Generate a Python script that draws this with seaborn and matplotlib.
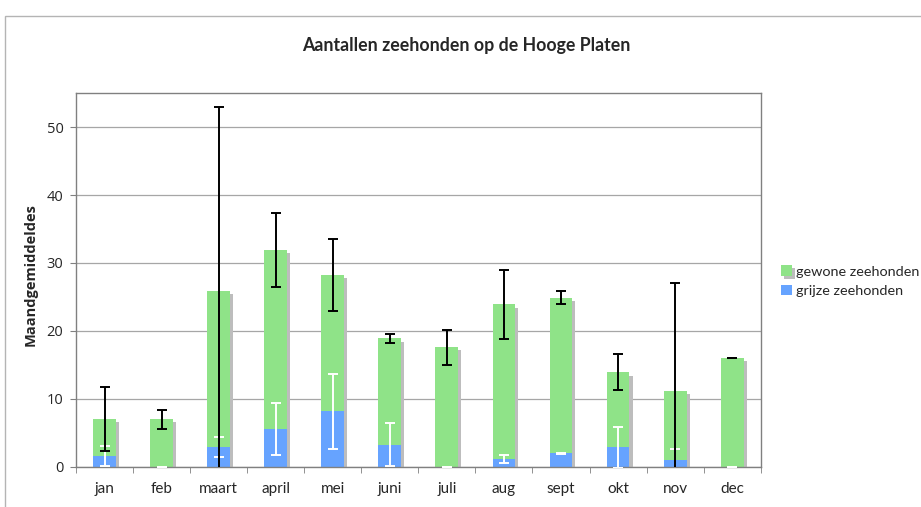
import numpy as np
import pandas as pd
import seaborn as sns
import matplotlib.pyplot as plt
import matplotlib.patheffects as pe
from matplotlib.patches import Rectangle
from matplotlib.ticker import FixedLocator

# Data
maanden = ["jan", "feb", "maart", "april", "mei", "juni", "juli", "aug", "sept", "okt", "nov", "dec"]
totaal = [7.0, 7.0, 25.9, 31.9, 28.2, 18.9, 17.6, 23.9, 24.9, 13.9, 11.2, 16.0]
totaal_err = [4.7, 1.4, 27.0, 5.5, 5.3, 0.6, 2.55, 5.05, 0.95, 2.65, 15.8, 0.0]
grijs = [1.6, 0.0, 2.9, 5.6, 8.2, 3.3, 0.0, 1.2, 2.0, 2.9, 1.0, 0.0]
grijs_err = [1.5, 0.0, 1.45, 3.8, 5.5, 3.2, 0.0, 0.6, 0.1, 3.0, 1.7, 0.0]

groen = "#8fe388"
blauw = "#66a3ff"

df = pd.DataFrame({"maand": maanden, "totaal": totaal, "totaal_err": totaal_err,
                   "grijs": grijs, "grijs_err": grijs_err})

sns.set_style("white")
plt.rcParams['font.family'] = ['Lato', 'DejaVu Sans']

fig = plt.figure(figsize=(9.21, 5.07), dpi=100)
ax = fig.add_axes([0.0825, 0.079, 0.7435, 0.7375])

# outer chart frame (cut off on the right and bottom)
fig.patches.append(Rectangle((5 / 921, -0.1), 1.2, 1 - 16 / 507 + 0.1, transform=fig.transFigure,
                             fill=False, edgecolor="#b4b4b4", lw=1.0))

sns.barplot(data=df, x="maand", y="totaal", order=maanden, color=groen, saturation=1,
            width=0.4, errorbar=None, ax=ax, label="gewone zeehonden")
n_groen = len(ax.patches)
for p in ax.patches:
    p.set_edgecolor("none")
    p.set_path_effects([pe.SimplePatchShadow(offset=(2.2, -2.2), shadow_rgbFace="#bdbdbd", alpha=1.0),
                        pe.Normal()])

sns.barplot(data=df, x="maand", y="grijs", order=maanden, color=blauw, saturation=1,
            width=0.4, errorbar=None, ax=ax, label="grijze zeehonden")
for p in ax.patches[n_groen:]:
    p.set_edgecolor("none")

pos = np.arange(len(maanden))
ax.errorbar(pos, df["grijs"], yerr=df["grijs_err"], fmt="none", ecolor="white",
            elinewidth=1.4, capsize=3.3, capthick=1.4, zorder=3)
ax.errorbar(pos, df["totaal"], yerr=df["totaal_err"], fmt="none", ecolor="black",
            elinewidth=1.4, capsize=3.3, capthick=1.4, zorder=4)

ax.set_ylim(0, 55)
ax.set_xlim(-0.5, len(maanden) - 0.5)
ax.set_yticks([0, 10, 20, 30, 40, 50])
ax.yaxis.grid(True, color="#a6a6a6", lw=0.9)
ax.set_axisbelow(True)

ax.tick_params(axis="y", direction="out", length=4, color="#808080", labelsize=10.5, pad=5, left=True)
for t in ax.get_yticklabels():
    t.set_fontfamily(["Open Sans", "DejaVu Sans"])
ax.tick_params(axis="x", which="major", length=0, labelsize=11, pad=11)
ax.xaxis.set_minor_locator(FixedLocator(np.arange(-0.5, len(maanden), 1.0)))
ax.tick_params(axis="x", which="minor", direction="out", length=4, color="#808080", bottom=True)

for s in ax.spines.values():
    s.set_color("#808080")
    s.set_linewidth(1.0)

ax.set_xlabel("")
ax.set_ylabel("Maandgemiddeldes", fontsize=10.5, fontweight="bold",
              family=["Open Sans", "DejaVu Sans"])
ax.yaxis.set_label_coords(-0.056, 0.515)
fig.text(0.506, 0.91, "Aantallen zeehonden op de Hooge Platen", ha="center", va="center",
         fontsize=12.8, fontweight="bold")

handles, labels = ax.get_legend_handles_labels()
ax.legend(handles, labels, loc="upper left", bbox_to_anchor=(0.842, 0.488), bbox_transform=fig.transFigure,
          frameon=False, fontsize=10.4, handlelength=0.75, handleheight=0.75, handletextpad=0.25,
          labelspacing=0.5, borderaxespad=0)

fig.savefig("out.png", dpi=100)
